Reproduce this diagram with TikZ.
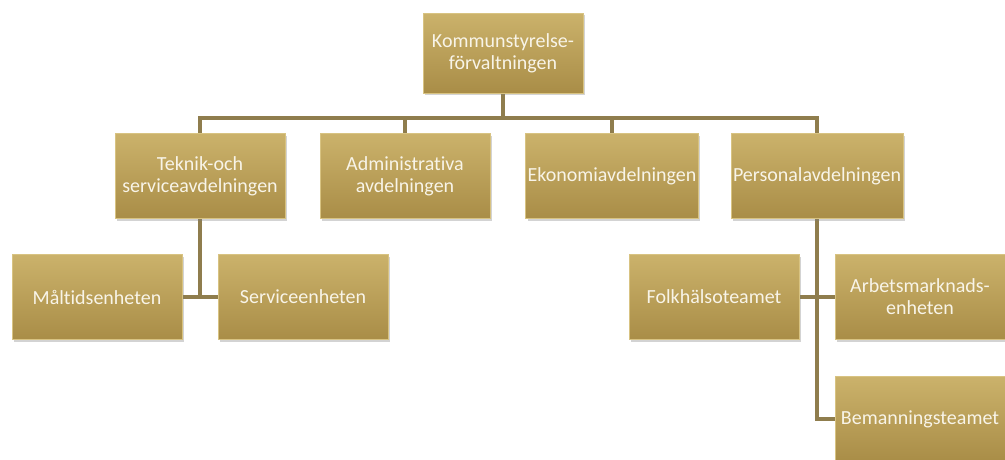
\documentclass[tikz,border=0pt]{standalone}
\usepackage{fontspec}
\setmainfont[Ligatures=NoCommon]{Carlito}
\usepackage{xcolor}
\usepackage{tikz}
\usetikzlibrary{positioning, shadows, backgrounds}
\definecolor{goldtop}{HTML}{CBB26B}
\definecolor{goldbot}{HTML}{A98D47}
\definecolor{goldedge}{HTML}{D8C382}
\definecolor{linkbrown}{HTML}{8F7D4D}
\definecolor{boxtext}{HTML}{F8F4E8}

\begin{document}
\begin{tikzpicture}[
    x=1pt, y=-1pt,
    unit/.style={
        rectangle, minimum width=170pt, minimum height=85pt, inner sep=2pt,
        top color=goldtop, bottom color=goldbot, draw=goldedge, line width=1pt,
        align=center, text=boxtext,
        font=\fontsize{20}{22}\selectfont,
        drop shadow={shadow xshift=2pt, shadow yshift=-2pt, opacity=0.35}
    },
    link/.style={draw=linkbrown, line width=4pt},
]
\useasboundingbox (0,0) rectangle (1005,459);

% ── Top ──────────────────────────────────────────────────────────────────
\node[unit, minimum width=160pt, minimum height=80pt] (ks) at (503,53)
    {Kommunstyrelse-\\förvaltningen};

% ── Departments ──────────────────────────────────────────────────────────
\node[unit] (teknik)    at (200,176) {Teknik-och\\serviceavdelningen};
\node[unit] (admin)     at (405,176) {Administrativa\\avdelningen};
\node[unit] (ekonomi)   at (612,176) {Ekonomiavdelningen};
\node[unit] (personal)  at (817,176) {Personalavdelningen};

% ── Units under Teknik ───────────────────────────────────────────────────
\node[unit] (maltid)    at (97,297)  {Måltidsenheten};
\node[unit] (service)   at (303,297) {Serviceenheten};

% ── Units under Personal ─────────────────────────────────────────────────
\node[unit] (folk)      at (714,297) {Folkhälsoteamet};
\node[unit] (arbets)    at (920,297) {Arbetsmarknads-\\enheten};
\node[unit] (bemanning) at (920,419) {Bemanningsteamet};

% ── Connectors ───────────────────────────────────────────────────────────
\coordinate (bus) at (503,118);
\begin{scope}[on background layer]
\draw[link] (ks.south) -- (bus);
\draw[link] (teknik.north) |- (bus) -| (personal.north);
\draw[link] (admin.north) -- (admin.north |- bus);
\draw[link] (ekonomi.north) -- (ekonomi.north |- bus);
\draw[link] (teknik.south) -- (teknik.south |- maltid.east);
\draw[link] (maltid.east) -- (service.west);
\draw[link] (personal.south) |- (bemanning.west);
\draw[link] (folk.east) -- (arbets.west);
\end{scope}

\end{tikzpicture}
\end{document}
